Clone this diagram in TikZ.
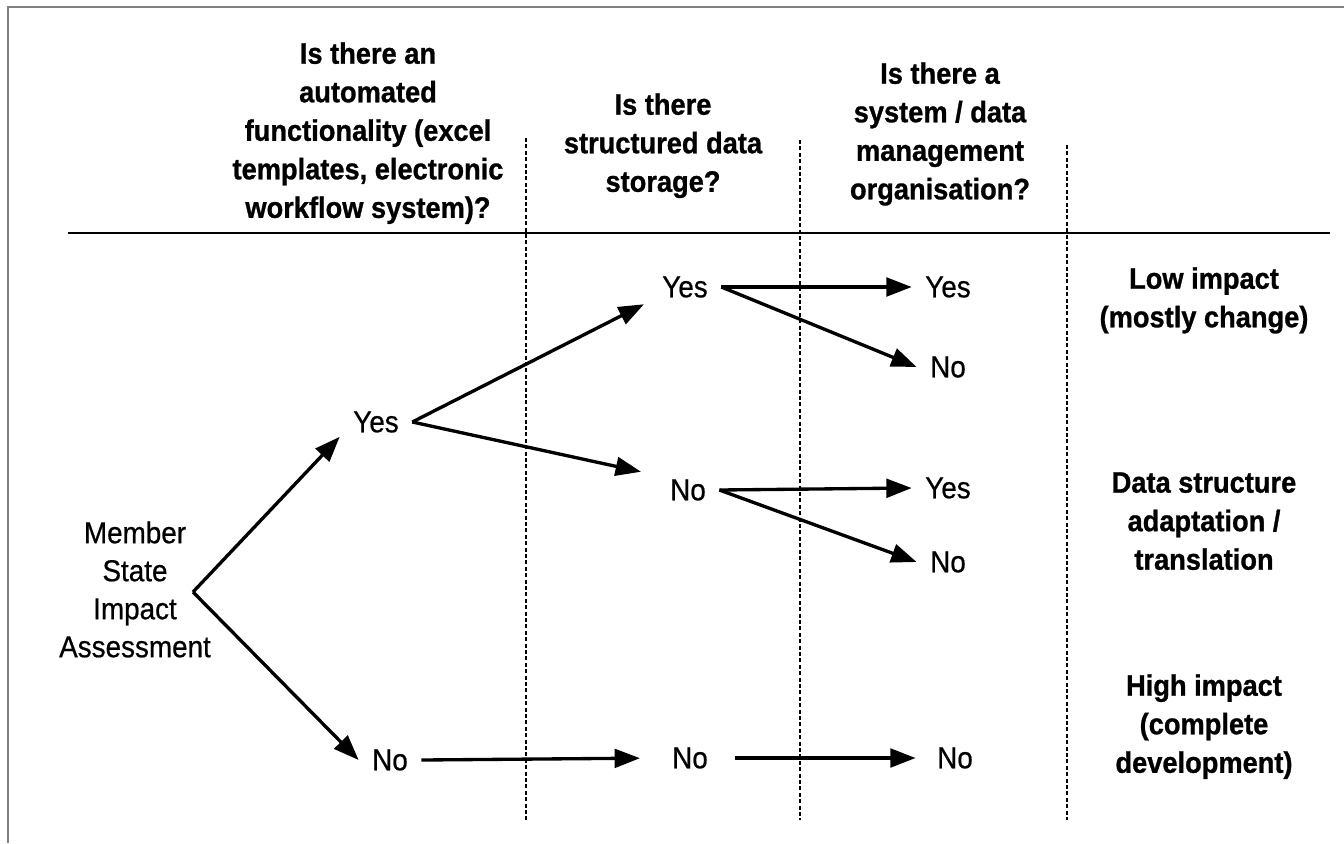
\documentclass[tikz,border=0pt]{standalone}
\usepackage{fontspec}
\setmainfont{Liberation Sans}[FakeStretch=0.92, UprightFeatures={FakeBold=0.6}, BoldFeatures={FakeBold=0.9}]
\usetikzlibrary{arrows.meta}
\begin{document}
\begin{tikzpicture}
[x=0.75pt, y=-0.75pt,
 answer/.style={font=\fontsize{22.7}{28.5}\selectfont, inner xsep=10pt, inner ysep=3pt},
 heading/.style={font=\fontsize{22.2}{28.9}\selectfont\bfseries, align=center, anchor=north, inner sep=0pt},
 branch/.style={-{Triangle[length=19pt, width=14pt]}, line width=2.5pt},
 divider/.style={line width=1.5pt, dash pattern=on 3pt off 1.8pt}]
\useasboundingbox (0,0) rectangle (1344,843);
\draw [gray, line width=1.3pt] (8,843) -- (8,7) -- (1344,7);
\draw [line width=1.2pt] (68,233) -- (1330,233);
\draw [divider] (526,138) -- (526,820);
\draw [divider] (800,140) -- (800,820);
\draw [divider] (1067,145) -- (1067,820);
\node [heading] (qAuto) at (368,42) {Is there an\\automated\\functionality (excel\\templates, electronic\\workflow system)?};
\node [heading] (qStore) at (663,93) {Is there\\structured data\\storage?};
\node [heading] (qOrg) at (940,62) {Is there a\\system / data\\management\\organisation?};
\node [heading] (lowImpact) at (1204,267) {Low impact\\(mostly change)};
\node [heading] (midImpact) at (1204,472) {Data structure\\adaptation /\\translation};
\node [heading] (highImpact) at (1204,674) {High impact\\(complete\\development)};
\node [answer, align=center, anchor=north, inner sep=0pt] (root) at (135,521) {Member\\State\\Impact\\Assessment};
\coordinate (fork) at (193,592);
\node [answer] (autoYes) at (376,422) {Yes};
\node [answer] (autoNo) at (390,760) {No};
\node [answer] (storeYes) at (685,287) {Yes};
\node [answer] (storeNo) at (688,490) {No};
\node [answer] (storeNoB) at (690,758) {No};
\node [answer] (orgYesA) at (948,287) {Yes};
\node [answer] (orgNoA) at (948,367) {No};
\node [answer] (orgYesB) at (948,488) {Yes};
\node [answer] (orgNoB) at (948,562) {No};
\node [answer] (orgNoC) at (955,758) {No};
\draw [branch] (fork) -- (autoYes.south west);
\draw [branch] (fork) -- (autoNo.west);
\draw [branch, shorten >=4pt] (autoYes.east) -- (storeYes.south west);
\draw [branch, shorten >=12pt] (autoYes.east) -- (storeNo.north west);
\draw [branch] (storeYes.east) -- (orgYesA.west);
\draw [branch] (storeYes.east) -- (orgNoA.west);
\draw [branch] (storeNo.east) -- (orgYesB.west);
\draw [branch] (storeNo.east) -- (orgNoB.west);
\draw [branch, shorten >=14pt] (autoNo.east) -- (storeNoB.west);
\draw [branch, shorten <=10pt, shorten >=6pt] (storeNoB.east) -- (orgNoC.west);
\end{tikzpicture}
\end{document}
